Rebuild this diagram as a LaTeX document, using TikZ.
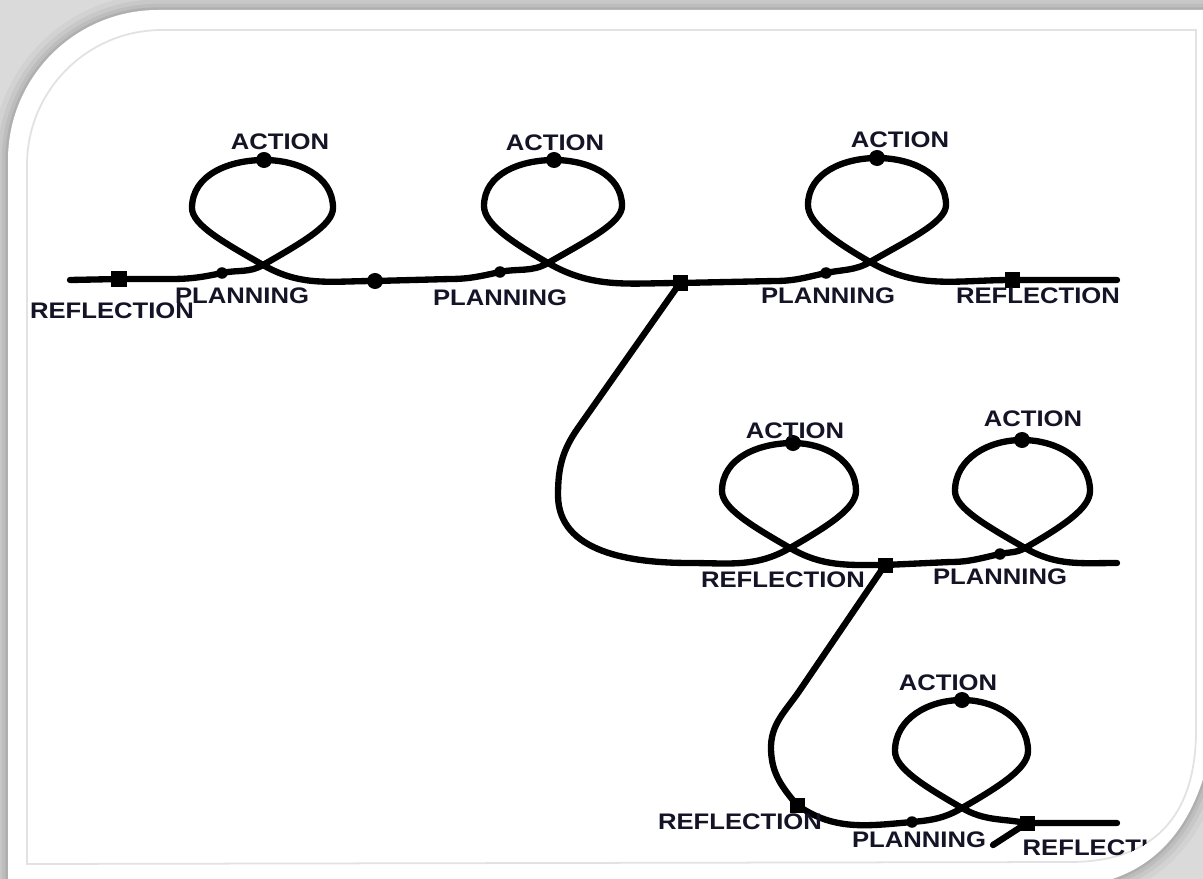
\documentclass[tikz,border=0pt]{standalone}
\usepackage{fontspec}
\setmainfont{Liberation Sans}
\usepackage{graphicx}
\definecolor{ink}{RGB}{20,20,38}
\definecolor{bggray}{RGB}{218,218,218}
\definecolor{rimgray}{RGB}{226,226,226}
\newcommand\lbl[1]{\scalebox{1.14}[1]{#1}}
\newcommand\cardshape{(8,-900) -- (8,-160) arc[start angle=180,end angle=90,radius=150] -- (1215,-10) -- (1215,-720) .. controls (1203,-830) and (1150,-878) .. (1080,-886) -- cycle}
\newcommand\innershape{(27,-864) -- (27,-165) arc[start angle=180,end angle=90,radius=135] -- (1196,-30) -- (1196,-730) .. controls (1196,-820) and (1150,-862) .. (1070,-862) -- cycle}
\begin{document}
\begin{tikzpicture}[x=0.01cm,y=0.01cm,
  curl/.style={line width=1.8pt,black,line join=round,line cap=round},
  lup/.style={out=30,in=-90,out distance=0.45cm,in distance=0.17cm},
  ldn/.style={out=-90,in=150,out distance=0.17cm,in distance=0.45cm},
  ltop/.style={out=90,in=0},
  lside/.style={out=180,in=90},
  adot/.style={circle,fill=black,inner sep=0pt,minimum size=0.16cm},
  pdot/.style={circle,fill=black,inner sep=0pt,minimum size=0.115cm},
  sdot/.style={rectangle,fill=black,inner sep=0pt,minimum size=0.15cm},
  lab/.style={font=\fontsize{6.4}{7.5}\selectfont\bfseries,text=ink,inner sep=0pt}]
\useasboundingbox (0,0) rectangle (1203,-879);
% background and card
\fill[bggray] (0,0) rectangle (1203,-879);
\begin{scope}
\clip (0,0) rectangle (1203,-879);
\foreach \w/\o in {9/0.035,6/0.045,3.5/0.055,1.5/0.07}
  \draw[line width=\w pt,black,opacity=\o] \cardshape;
\fill[white] \cardshape;
\draw[rimgray,line width=0.5pt] \innershape;
\end{scope}
\begin{scope}
\clip \innershape;
% ---------- coordinates, row 1
\coordinate (L0) at (70,-280);
\coordinate (R1) at (119,-279);
\coordinate (a1) at (170,-279);
\coordinate (P1) at (222,-273);
\coordinate (X1) at (263,-265);
\coordinate (E1r) at (333,-208);
\coordinate (A1) at (264,-160);
\coordinate (E1l) at (192,-208);
\coordinate (J1) at (375,-281);
\coordinate (a2) at (450,-279);
\coordinate (P2) at (500,-272);
\coordinate (X2) at (548,-263);
\coordinate (E2r) at (622,-206);
\coordinate (A2) at (554,-160);
\coordinate (E2l) at (484,-206);
\coordinate (J2) at (680,-283);
\coordinate (a3) at (775,-281);
\coordinate (P3) at (826,-273);
\coordinate (X3) at (870,-262);
\coordinate (E3r) at (946,-205);
\coordinate (A3) at (877,-158);
\coordinate (E3l) at (808,-205);
\coordinate (R3) at (1012,-280);
\coordinate (L3) at (1117,-280);
% ---------- branch 1
\coordinate (b1) at (578,-428);
\coordinate (b2) at (558,-495);
\coordinate (b3) at (690,-563);
\coordinate (X4) at (790,-548);
\coordinate (E4r) at (856,-491);
\coordinate (A4) at (793,-443);
\coordinate (E4l) at (722,-491);
\coordinate (J3) at (885,-565);
\coordinate (b4) at (950,-562);
\coordinate (P5) at (1000,-554);
\coordinate (X5) at (1025,-548);
\coordinate (E5r) at (1090,-491);
\coordinate (A5) at (1022,-440);
\coordinate (E5l) at (955,-491);
\coordinate (L5) at (1117,-563);
% ---------- branch 2
\coordinate (c1) at (800,-690);
\coordinate (c2) at (771,-750);
\coordinate (R6) at (797,-805);
\coordinate (P6) at (912,-822);
\coordinate (X6) at (962,-808);
\coordinate (E6r) at (1028,-751);
\coordinate (A6) at (962,-700);
\coordinate (E6l) at (895,-751);
\coordinate (J4) at (1027,-823);
\coordinate (L6) at (1117,-823);
\coordinate (S6) at (993,-845);
% ---------- curves
\draw[curl] (L0) -- (R1) -- (a1) to[out=0,in=192] (P1) to[out=12,in=210] (X1)
  to[lup] (E1r) to[ltop] (A1) to[lside] (E1l) to[ldn] (X1) to[out=-30,in=180] (J1)
  -- (a2) to[out=0,in=192] (P2) to[out=12,in=210] (X2)
  to[lup] (E2r) to[ltop] (A2) to[lside] (E2l) to[ldn] (X2) to[out=-30,in=180] (J2)
  -- (a3) to[out=0,in=192] (P3) to[out=12,in=210] (X3)
  to[lup] (E3r) to[ltop] (A3) to[lside] (E3l) to[ldn] (X3) to[out=-30,in=180] (R3) -- (L3);
\draw[curl] (J2) -- (b1) to[out=-125,in=90] (b2) to[out=-90,in=180] (b3)
  to[out=0,in=210] (X4)
  to[lup] (E4r) to[ltop] (A4) to[lside] (E4l) to[ldn] (X4) to[out=-30,in=180] (J3)
  -- (b4) to[out=0,in=192] (P5) to[out=12,in=210] (X5)
  to[lup] (E5r) to[ltop] (A5) to[lside] (E5l) to[ldn] (X5) to[out=-30,in=180] (L5);
\draw[curl] (J3) -- (c1) to[out=-124,in=92] (c2) to[out=-88,in=130] (R6)
  to[out=-35,in=185] (P6) to[out=5,in=210] (X6)
  to[lup] (E6r) to[ltop] (A6) to[lside] (E6l) to[ldn] (X6) to[out=-30,in=170] (J4) -- (L6);
\draw[curl] (J4) -- (S6);
% ---------- dots
\node[sdot] (nR1) at (R1) {};
\node[pdot] (nP1) at (P1) {};
\node[adot] (nA1) at (A1) {};
\node[adot] (nJ1) at (J1) {};
\node[pdot] (nP2) at (P2) {};
\node[adot] (nA2) at (A2) {};
\node[sdot] (nJ2) at (J2) {};
\node[pdot] (nP3) at (P3) {};
\node[adot] (nA3) at (A3) {};
\node[sdot] (nR3) at (R3) {};
\node[adot] (nA4) at (A4) {};
\node[sdot] (nJ3) at (J3) {};
\node[pdot] (nP5) at (P5) {};
\node[adot] (nA5) at (A5) {};
\node[sdot] (nR6) at (R6) {};
\node[pdot] (nP6) at (P6) {};
\node[adot] (nA6) at (A6) {};
\node[sdot] (nJ4) at (J4) {};
% ---------- labels
\node[lab] (t1) at (280,-142) {\lbl{ACTION}};
\node[lab] (t2) at (555,-143) {\lbl{ACTION}};
\node[lab] (t3) at (900,-140) {\lbl{ACTION}};
\node[lab] (t4) at (795,-431) {\lbl{ACTION}};
\node[lab] (t5) at (1033,-419) {\lbl{ACTION}};
\node[lab] (t6) at (948,-683) {\lbl{ACTION}};
\node[lab] (p1) at (242,-296) {\lbl{PLANNING}};
\node[lab] (p2) at (500,-298) {\lbl{PLANNING}};
\node[lab] (p3) at (828,-296) {\lbl{PLANNING}};
\node[lab] (p5) at (1000,-577) {\lbl{PLANNING}};
\node[lab] (p6) at (919,-840) {\lbl{PLANNING}};
\node[lab] (r1) at (112,-311) {\lbl{REFLECTION}};
\node[lab] (r3) at (1038,-296) {\lbl{REFLECTION}};
\node[lab] (r4) at (783,-580) {\lbl{REFLECTION}};
\node[lab] (r6) at (740,-822) {\lbl{REFLECTION}};
\node[lab,anchor=west] (r7) at (1022,-848) {\lbl{REFLECTION}};
\end{scope}
\end{tikzpicture}
\end{document}
